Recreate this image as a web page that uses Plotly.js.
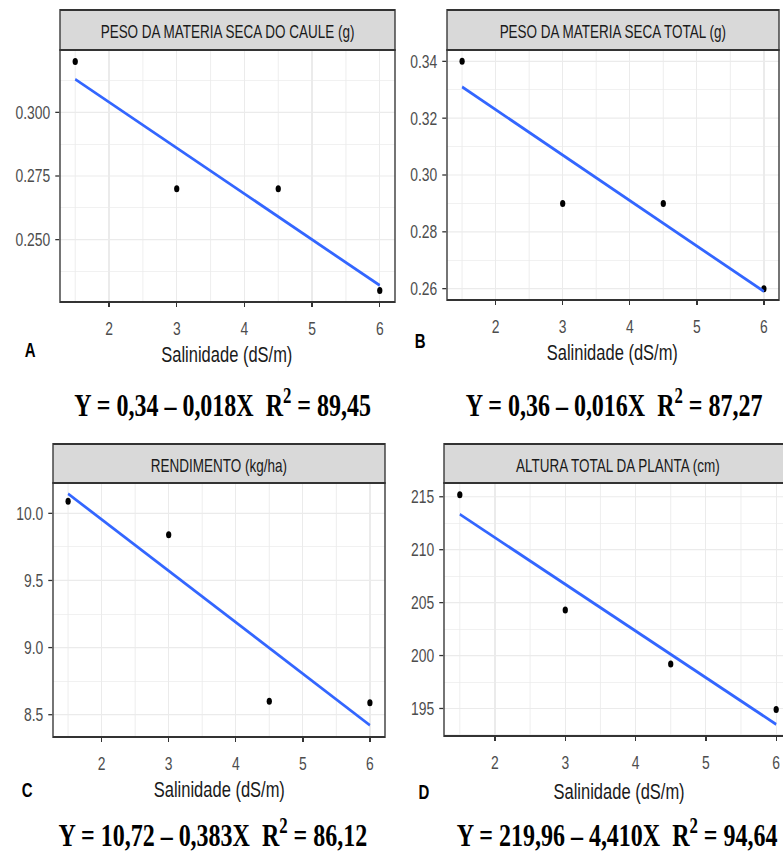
<!DOCTYPE html>
<html>
<head>
<meta charset="utf-8">
<script src="https://cdn.plot.ly/plotly-3.0.1.min.js"></script>
<style>
html, body { margin: 0; padding: 0; overflow: hidden; background: #fff; }
#wrap { width: 1060px; height: 852px; transform: scaleX(0.75); transform-origin: 0 0; }
</style>
</head>
<body>
<div id="wrap"></div>
<script>
// ---- data ----
const salinidade = [1.5, 3, 4.5, 6];
const xFit = [1.5, 6];

const caule = [0.32, 0.27, 0.27, 0.23];
const cauleFit = [0.313, 0.232];

const total = [0.34, 0.29, 0.29, 0.26];
const totalFit = [0.331, 0.259];

const rendimento = [10.09, 9.84, 8.60, 8.59];
const rendimentoFit = [10.146, 8.422];

const altura = [215.2, 204.3, 199.2, 194.9];
const alturaFit = [213.35, 193.5];

const stripTitles = [
  "PESO DA MATERIA SECA DO CAULE (g)",
  "PESO DA MATERIA SECA TOTAL (g)",
  "RENDIMENTO (kg/ha)",
  "ALTURA TOTAL DA PLANTA (cm)"
];
const panelLetters = ["A", "B", "C", "D"];
const equations = [
  "Y = 0,34 \u2013 0,018X\u00A0\u00A0R<sup>2</sup> = 89,45",
  "Y = 0,36 \u2013 0,016X\u00A0\u00A0R<sup>2</sup> = 87,27",
  "Y = 10,72 \u2013 0,383X\u00A0\u00A0R<sup>2</sup> = 86,12",
  "Y = 219,96 \u2013 4,410X\u00A0\u00A0R<sup>2</sup> = 94,64"
];
const xTitle = "Salinidade (dS/m)";

const seriesY = [caule, total, rendimento, altura];
const seriesFit = [cauleFit, totalFit, rendimentoFit, alturaFit];

// ---- layout geometry (screen pixels) ----
const K = 0.75, WL = 1060, H = 852, S = WL * K;
const px = v => v / S;
const py = v => 1 - v / H;

const boxes = [
  {l: 60,  r: 395, t: 50,  b: 302, s: 10,  yr: [0.2255, 0.3245], dy: 0.025, fmt: '.3f'},
  {l: 447, r: 779, t: 50,  b: 300, s: 10,  yr: [0.256, 0.344],   dy: 0.02,  fmt: '.2f'},
  {l: 53,  r: 385, t: 483, b: 737, s: 444, yr: [8.334, 10.226],  dy: 0.5,   fmt: '.1f'},
  {l: 444, r: 792, t: 483, b: 736, s: 444, yr: [192.4, 216.3],   dy: 5,     fmt: 'd'}
];
const letterPos = [[30, 350], [420, 341], [27, 790], [424, 792]];
const titlePos = [[227, 354], [612, 352], [219, 789], [619, 791]];
const eqPos = [[223, 403], [614, 403], [213, 833], [617, 833]];

const sans = "Liberation Sans, Arial, sans-serif";
const serif = "Liberation Serif, Times New Roman, serif";
const grid = '#EBEBEB';
const dark = '#333333';

const data = [];
const layout = {
  width: WL, height: H,
  margin: {l: 0, r: 0, t: 0, b: 0},
  paper_bgcolor: '#ffffff', plot_bgcolor: '#ffffff',
  showlegend: false,
  shapes: [], annotations: []
};

boxes.forEach((bx, i) => {
  const n = i + 1;
  const xa = 'x' + (n === 1 ? '' : n), ya = 'y' + (n === 1 ? '' : n);
  data.push({
    x: salinidade, y: seriesY[i], xaxis: xa, yaxis: ya,
    type: 'scatter', mode: 'markers',
    marker: {color: '#000000', size: 7}, hoverinfo: 'skip'
  });
  data.push({
    x: xFit, y: seriesFit[i], xaxis: xa, yaxis: ya,
    type: 'scatter', mode: 'lines',
    line: {color: '#3366FF', width: 3}, hoverinfo: 'skip'
  });
  layout['xaxis' + (n === 1 ? '' : n)] = {
    domain: [px(bx.l), px(bx.r)], anchor: ya,
    range: [1.275, 6.225], tick0: 0, dtick: 1,
    showgrid: true, gridcolor: grid, gridwidth: 1.6,
    minor: {tick0: 0, dtick: 0.5, showgrid: true, gridcolor: grid, gridwidth: 1.0},
    zeroline: false, showline: false,
    ticks: 'outside', ticklen: 4, tickwidth: 1.8, tickcolor: dark,
    ticklabelstandoff: 6,
    tickfont: {family: sans, size: 18.5, color: '#4D4D4D'}
  };
  layout['yaxis' + (n === 1 ? '' : n)] = {
    domain: [py(bx.b), py(bx.t)], anchor: xa,
    range: bx.yr, tick0: 0, dtick: bx.dy, tickformat: bx.fmt,
    showgrid: true, gridcolor: grid, gridwidth: 1.2,
    minor: {tick0: 0, dtick: bx.dy / 2, showgrid: true, gridcolor: grid, gridwidth: 0.8},
    zeroline: false, showline: false,
    ticks: 'outside', ticklen: 5.3, tickwidth: 1.3, tickcolor: dark,
    ticklabelstandoff: 3,
    tickfont: {family: sans, size: 18.5, color: '#4D4D4D'}
  };
  // strip
  layout.shapes.push({
    type: 'rect', xref: 'paper', yref: 'paper',
    x0: px(bx.l), x1: px(bx.r), y0: py(bx.t), y1: py(bx.s),
    fillcolor: '#D9D9D9', line: {color: dark, width: 1.8}, layer: 'above'
  });
  // panel border
  layout.shapes.push({
    type: 'rect', xref: 'paper', yref: 'paper',
    x0: px(bx.l), x1: px(bx.r), y0: py(bx.b), y1: py(bx.t),
    fillcolor: 'rgba(0,0,0,0)', line: {color: dark, width: 1.8}, layer: 'above'
  });
  layout.annotations.push({
    xref: 'paper', yref: 'paper', x: px((bx.l + bx.r) / 2), y: py((bx.s + bx.t) / 2 + 2),
    xanchor: 'center', yanchor: 'middle', showarrow: false,
    text: stripTitles[i], font: {family: sans, size: 18, color: '#1A1A1A'}
  });
  layout.annotations.push({
    xref: 'paper', yref: 'paper', x: px(titlePos[i][0]), y: py(titlePos[i][1]),
    xanchor: 'center', yanchor: 'middle', showarrow: false,
    text: xTitle, font: {family: sans, size: 22, color: '#1A1A1A'}
  });
  layout.annotations.push({
    xref: 'paper', yref: 'paper', x: px(letterPos[i][0]), y: py(letterPos[i][1]),
    xanchor: 'center', yanchor: 'middle', showarrow: false,
    text: '<b>' + panelLetters[i] + '</b>', font: {family: sans, size: 20, color: '#000000'}
  });
  layout.annotations.push({
    xref: 'paper', yref: 'paper', x: px(eqPos[i][0]), y: py(eqPos[i][1]),
    xanchor: 'center', yanchor: 'middle', showarrow: false,
    text: '<b>' + equations[i] + '</b>', font: {family: serif, size: 32, color: '#000000'}
  });
});

Plotly.newPlot('wrap', data, layout, {staticPlot: true, displayModeBar: false});
</script>
</body>
</html>
